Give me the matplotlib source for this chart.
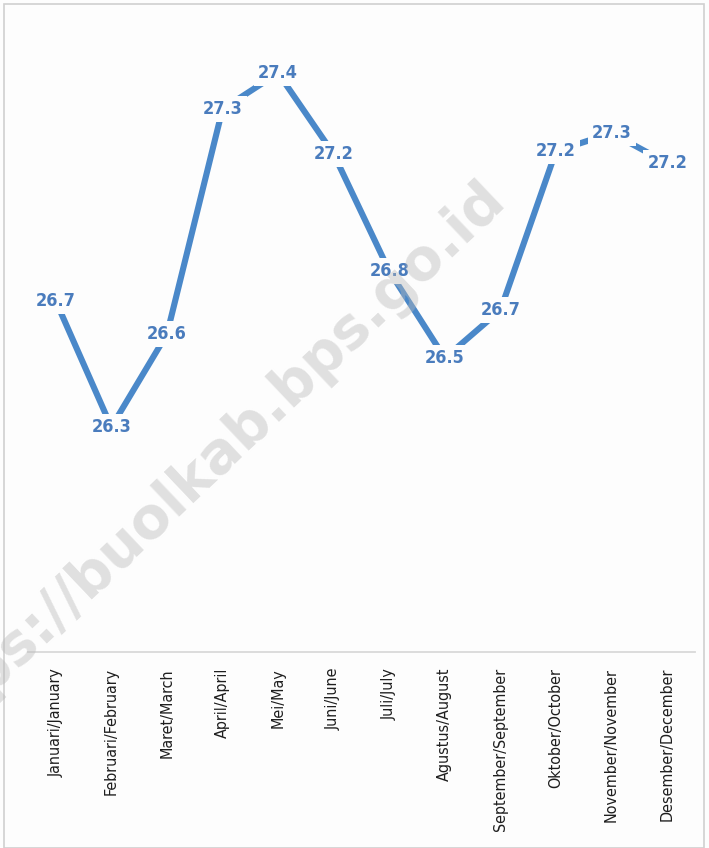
import matplotlib.pyplot as plt
from matplotlib.patches import Rectangle

months = ['Januari/January', 'Februari/February', 'Maret/March', 'April/April',
          'Mei/May', 'Juni/June', 'Juli/July', 'Agustus/August',
          'September/September', 'Oktober/October', 'November/November',
          'Desember/December']
# plotted values and the labels as printed
temps = [26.68, 26.26, 26.57, 27.32, 27.44, 27.17, 26.78, 26.49, 26.65, 27.18, 27.24, 27.14]
temp_labels = ['26.7', '26.3', '26.6', '27.3', '27.4', '27.2', '26.8', '26.5', '26.7', '27.2', '27.3', '27.2']

line_color = '#4a88c9'
label_color = '#4a7cbd'

fig = plt.figure(figsize=(7.09, 8.48), dpi=100)
fig.patch.set_facecolor('#fdfdfd')
ax = fig.add_axes([28 / 709, 196 / 848, 667 / 709, 632 / 848])
ax.patch.set_alpha(0)

x = list(range(len(months)))
ax.plot(x, temps, color=line_color, linewidth=4.4, solid_capstyle='butt', zorder=2)

for xi, yi, lab in zip(x, temps, temp_labels):
    ax.text(xi, yi, lab, ha='center', va='center', fontsize=13, fontweight='bold',
            fontstretch='condensed', color=label_color, zorder=3,
            bbox=dict(facecolor='#fdfdfd', edgecolor='none', pad=3))

ax.set_xlim(-0.5, 11.5)
ax.set_ylim(25.51, 27.617)
ax.set_yticks([])
ax.set_xticks(x)
ax.set_xticklabels(months, rotation=90, fontsize=11.5, fontstretch='condensed',
                   color='#1e1e1e', va='top', ha='center')
ax.tick_params(axis='x', length=0, pad=11.5)
for side in ['top', 'left', 'right']:
    ax.spines[side].set_visible(False)
ax.spines['bottom'].set_color('#d9d9d9')
ax.spines['bottom'].set_linewidth(1.3)

# watermark, on top and semi-transparent
fig.text(496 / 709, 1 - 190 / 848, 'https://buolkab.bps.go.id', rotation=43.5,
         fontsize=41, fontweight='bold', color='#b8b8b8', alpha=0.42,
         ha='right', va='center', rotation_mode='anchor', zorder=10)

# outer frame
fig.patches.append(Rectangle((4 / 709, 0 / 848), 700 / 709, 844 / 848,
                             transform=fig.transFigure, fill=False,
                             edgecolor='#d0d0d0', linewidth=1.2))

fig.savefig('out.png', dpi=100, facecolor=fig.get_facecolor())
